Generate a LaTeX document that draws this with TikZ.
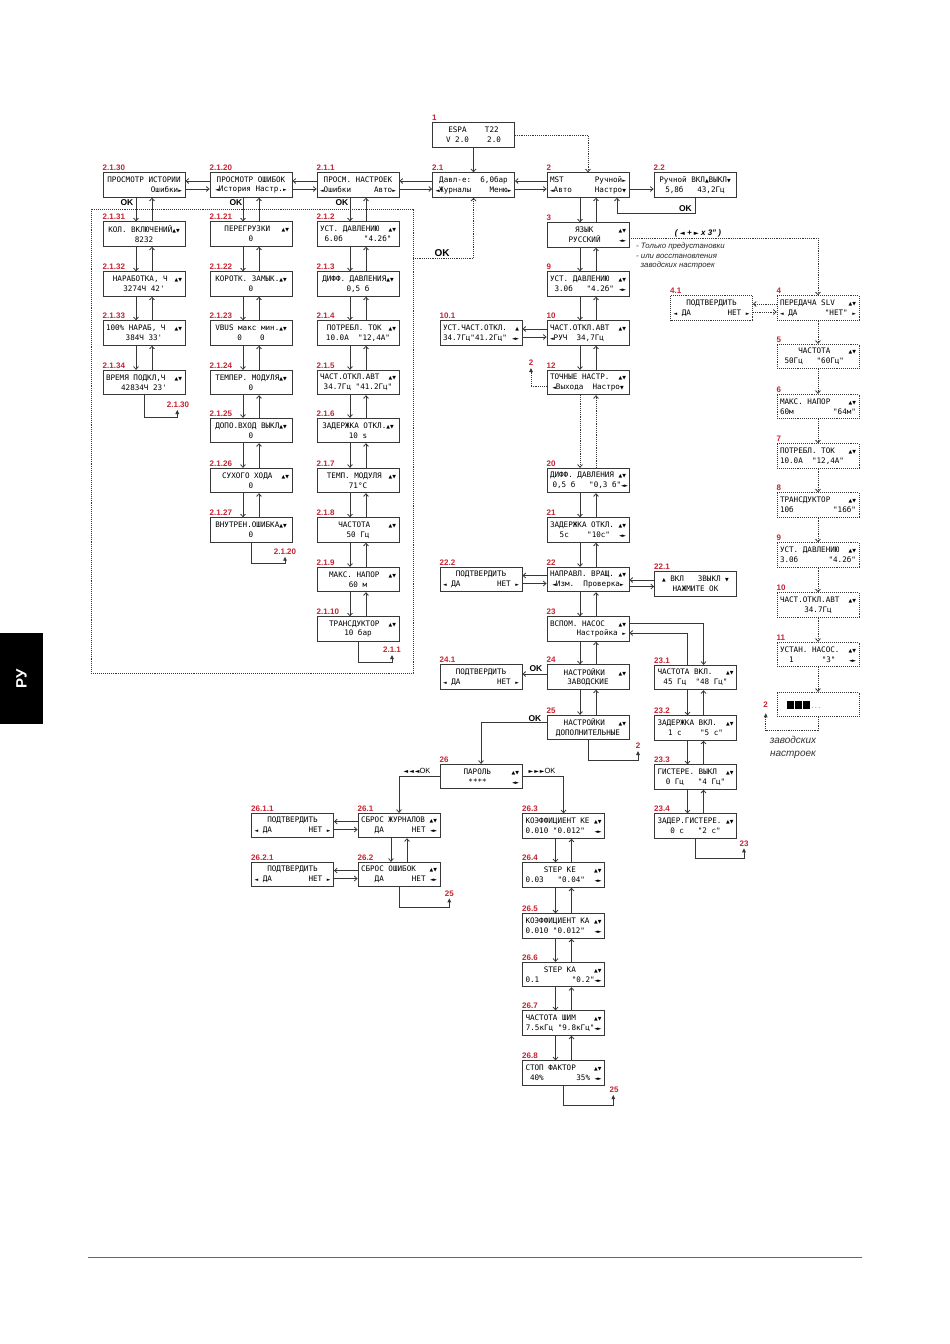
\documentclass[tikz,border=0pt]{standalone}
\usepackage{fontspec}
\setmainfont{Liberation Sans}
\newfontfamily\mono{DejaVu Sans Mono}
\newfontfamily\symf{DejaVu Sans}
\usetikzlibrary{arrows.meta}
\definecolor{lblred}{RGB}{200,35,50}
\definecolor{lineg}{RGB}{55,55,55}
\newcommand\sUD{{\symf\fontsize{4.8}{5}\selectfont ▲▼}}
\newcommand\sUp{{\symf\fontsize{4.8}{5}\selectfont ▲}}
\newcommand\sDn{{\symf\fontsize{4.8}{5}\selectfont ▼}}
\newcommand\sL{{\symf\fontsize{4.8}{5}\selectfont ◄}}
\newcommand\sR{{\symf\fontsize{4.8}{5}\selectfont ►}}
\newcommand\sLR{{\symf\fontsize{4.8}{5}\selectfont ◄\kern-0.6pt►}}
\newcommand\lcdl[1]{\makebox[76pt][c]{#1}}
\newcommand\lcdt[2]{\lcdl{#1}\\\lcdl{#2}}
\newcommand\bx[5]{\node[lcd] (#1) at (#2) {\lcdt{#4}{#5}};
  \node[lbl] at ([yshift=1.3pt]#1.north west) {#3};}
\newcommand\bxd[5]{\node[lcdd] (#1) at (#2) {\lcdt{#4}{#5}};
  \node[lbl] at ([yshift=1.3pt]#1.north west) {#3};}
\newcommand\vpair[2]{\draw[arr] ([xshift=-8pt]#1.south) -- ([xshift=-8pt]#2.north);
  \draw[arr] ([xshift=8pt]#2.north) -- ([xshift=8pt]#1.south);}
\newcommand\hpair[2]{\draw[arr] ([yshift=4pt]#2.west) -- ([yshift=4pt]#1.east);
  \draw[arr] ([yshift=-4pt]#1.east) -- ([yshift=-4pt]#2.west);}
\begin{document}
\begin{tikzpicture}[x=1pt,y=-1pt,
  lcd/.style={draw=lineg, line width=0.95pt, fill=white, minimum width=82pt, minimum height=24.5pt, inner sep=0pt, align=center, font=\mono\fontsize{7.6}{9.8}\selectfont},
  lcdd/.style={lcd, densely dotted},
  lbl/.style={text=lblred, font=\bfseries\fontsize{8}{9}\selectfont, inner sep=0pt, anchor=south west},
  arr/.style={draw=lineg, line width=0.85pt, -{Straight Barb[length=2.6pt,width=5pt]}},
  darr/.style={arr, densely dotted},
  larr/.style={draw=lineg, line width=0.85pt, -{Triangle[length=4pt,width=3.6pt]}},
  dlarr/.style={larr, densely dotted},
  okl/.style={font=\bfseries\fontsize{8.5}{9}\selectfont, inner sep=0pt},
  note/.style={font=\itshape\fontsize{7.8}{9}\selectfont, inner sep=0pt, anchor=west, text=black!85}]
\fill[white] (0,0) rectangle (950,1344);
\useasboundingbox (0,0) rectangle (950,1344);
% side tab and page line
\fill[black] (0,633) rectangle (43,724);
\node[text=white, rotate=90, font=\bfseries\fontsize{15}{15}\selectfont] (tab) at (21.5,678.5) {РУ};
\draw[black!60, line width=0.6pt] (88,1257) -- (862,1257);
% dotted frame of the left block
\draw[lineg, densely dotted, line width=0.95pt] (91,209) rectangle (413,673);

% ---------- top / middle column
\bx{n1}{473.5,135}{1}{\hfill ESPA~~~~T22\hfill}{\hfill V~2.0~~~~2.0\hfill}
\bx{n21}{473.5,185}{2.1}{Давл-е:~~6,0бар}{\sL Журналы\hfill Меню\sR}
\bx{n2}{588,185}{2}{MST\hfill Ручной\sR}{\sL Авто\hfill Настро\sDn}
\bx{n22}{695,185}{2.2}{Ручной ВКЛ\sUp ВЫКЛ\sDn}{\hfill 5,8б~~~43,2Гц\hfill}
\bx{n3}{588,235}{3}{\hfill ЯЗЫК\hfill\sUD}{\hfill РУССКИЙ\hfill\sLR}
\bx{n9}{588,284}{9}{УСТ. ДАВЛЕНИЮ\hfill\sUD}{~3.0б~~~"4.2б"\hfill\sLR}
\bx{n101}{481,333}{10.1}{УСТ.ЧАСТ.ОТКЛ.\hfill\sUp}{34.7Гц"41.2Гц"\hfill\sLR}
\bx{n10}{588,333}{10}{ЧАСТ.ОТКЛ.АВТ\hfill\sUD}{\sL РУЧ~~34,7Гц\hfill}
\bx{n12}{588,382.5}{12}{ТОЧНЫЕ НАСТР.\hfill\sUD}{\sL Выхода~~Настро\sDn}
\bx{n20}{588,480.5}{20}{ДИФФ. ДАВЛЕНИЯ\hfill\sUD}{~0,5 б~~~"0,3 б"\hfill\sLR}
\bx{n21b}{588,530}{21}{ЗАДЕРЖКА ОТКЛ.\hfill\sUD}{\hfill 5с~~~~"10с"~~\sLR}
\bx{n22b}{588,579.5}{22}{НАПРАВЛ. ВРАЩ.\hfill\sUD}{\sL Изм.~~Проверка\sR}
\bx{n222}{481,579.5}{22.2}{\hfill ПОДТВЕРДИТЬ\hfill}{\sL~ДА\hfill НЕТ~\sR}
\bx{n221}{695.5,584}{22.1}{\sUp~ВКЛ~~~ЗВЫКЛ~\sDn}{\hfill НАЖМИТЕ ОК\hfill}
\bx{n23}{588,629}{23}{ВСПОМ. НАСОС\hfill\sUD}{\hfill Настройка~\sR}
\bx{n24}{588,677}{24}{\hfill НАСТРОЙКИ\hfill\sUD}{\hfill ЗАВОДСКИЕ\hfill}
\bx{n241}{481,677}{24.1}{\hfill ПОДТВЕРДИТЬ\hfill}{\sL~ДА\hfill НЕТ~\sR}
\bx{n25}{588,727.5}{25}{\hfill НАСТРОЙКИ\hfill\sUD}{\hfill ДОПОЛНИТЕЛЬНЫЕ\hfill}
\bx{n231}{695.5,677.5}{23.1}{ЧАСТОТА ВКЛ.\hfill\sUD}{\hfill 45 Гц~~"48 Гц"\hfill}
\bx{n232}{695.5,728}{23.2}{ЗАДЕРЖКА ВКЛ.\hfill\sUD}{\hfill 1 с~~~~"5 с"\hfill}
\bx{n233}{695.5,777}{23.3}{ГИСТЕРЕ. ВЫКЛ\hfill\sUD}{\hfill 0 Гц~~~"4 Гц"\hfill}
\bx{n234}{695.5,826}{23.4}{ЗАДЕР.ГИСТЕРЕ.\hfill\sUD}{\hfill 0 с~~~"2 с"\hfill}
\bx{n26}{481,776.5}{26}{\hfill ПАРОЛЬ\hfill\sUD}{\hfill ****\hfill\sLR}
\bx{n2611}{292.5,825.5}{26.1.1}{\hfill ПОДТВЕРДИТЬ\hfill}{\sL~ДА\hfill НЕТ~\sR}
\bx{n261}{399,825.5}{26.1}{СБРОС ЖУРНАЛОВ\hfill\sUD}{~~~ДА\hfill НЕТ~\sLR}
\bx{n2621}{292.5,874.5}{26.2.1}{\hfill ПОДТВЕРДИТЬ\hfill}{\sL~ДА\hfill НЕТ~\sR}
\bx{n262}{399,874.5}{26.2}{СБРОС ОШИБОК\hfill\sUD}{~~~ДА\hfill НЕТ~\sLR}
\bx{n263}{563.5,826}{26.3}{КОЭФФИЦИЕНТ КЕ\hfill\sUD}{0.010 "0.012"\hfill\sLR}
\bx{n264}{563.5,875}{26.4}{\hfill STEP КЕ\hfill\sUD}{0.03~~~"0.04"\hfill\sLR}
\bx{n265}{563.5,926}{26.5}{КОЭФФИЦИЕНТ КА\hfill\sUD}{0.010 "0.012"\hfill\sLR}
\bx{n266}{563.5,974.5}{26.6}{\hfill STEP КА\hfill\sUD}{0.1\hfill"0.2"\sLR}
\bx{n267}{563.5,1023}{26.7}{ЧАСТОТА ШИМ\hfill\sUD}{7.5кГц "9.8кГц"\sLR}
\bx{n268}{563.5,1073}{26.8}{СТОП ФАКТОР\hfill\sUD}{~40\%\hfill 35\%~\sLR}

% ---------- right dotted column
\bxd{n4}{818,308}{4}{ПЕРЕДАЧА SLV\hfill\sUD}{\sL~ДА\hfill"НЕТ"~\sR}
\bxd{n41}{711.5,308}{4.1}{\hfill ПОДТВЕРДИТЬ\hfill}{\sL~ДА\hfill НЕТ~\sR}
\bxd{n5}{818,356.5}{5}{\hfill ЧАСТОТА\hfill\sUD}{~50Гц~~~"60Гц"\hfill}
\bxd{n6}{818,406.5}{6}{МАКС. НАПОР\hfill\sUD}{60м\hfill"64м"}
\bxd{n7}{818,456}{7}{ПОТРЕБЛ. ТОК\hfill\sUD}{10.0А~~"12,4А"\hfill}
\bxd{n8}{818,505}{8}{ТРАНСДУКТОР\hfill\sUD}{10б\hfill"16б"}
\bxd{n9r}{818,555}{9}{УСТ. ДАВЛЕНИЮ\hfill\sUD}{3.0б\hfill"4.2б"}
\bxd{n10r}{818,605}{10}{ЧАСТ.ОТКЛ.АВТ\hfill\sUD}{\hfill 34.7Гц\hfill}
\bxd{n11}{818,654.5}{11}{УСТАН. НАСОС.\hfill\sUD}{~~1\hfill"3"~~~\sLR}
\node[lcdd] (nfin) at (818,704.5) {\makebox[76pt][l]{\hspace{7pt}\rule{6.5pt}{8pt}\hspace{1.5pt}\rule{6.5pt}{8pt}\hspace{1.5pt}\rule{6.5pt}{8pt}\hspace{1pt}{\color{gray}\fontsize{6}{7}\selectfont...}}};

% ---------- left block
\bx{n2130}{144,185}{2.1.30}{ПРОСМОТР ИСТОРИИ}{\hfill Ошибки\sR}
\bx{n2120}{251,185}{2.1.20}{\hfill ПРОСМОТР ОШИБОК\hfill}{\sL История Настр.\sR}
\bx{n211}{358,185}{2.1.1}{\hfill ПРОСМ. НАСТРОЕК\hfill}{\sL Ошибки\hfill Авто\sR}
\bx{n2131}{144,234}{2.1.31}{КОЛ. ВКЛЮЧЕНИЙ\sUD}{\hfill 8232\hfill}
\bx{n2132}{144,284}{2.1.32}{\hfill НАРАБОТКА, Ч\hfill\sUD}{\hfill 3274Ч 42'\hfill}
\bx{n2133}{144,333}{2.1.33}{100\% НАРАБ, Ч\hfill\sUD}{\hfill 384Ч 33'\hfill}
\bx{n2134}{144,382.5}{2.1.34}{ВРЕМЯ ПОДКЛ,Ч\hfill\sUD}{\hfill 42834Ч 23'\hfill}
\bx{n2121}{251,234}{2.1.21}{\hfill ПЕРЕГРУЗКИ\hfill\sUD}{\hfill 0\hfill}
\bx{n2122}{251,284}{2.1.22}{КОРОТК. ЗАМЫК.\sUD}{\hfill 0\hfill}
\bx{n2123}{251,333}{2.1.23}{VBUS макс мин.\sUD}{\hfill 0~~~~0\hfill}
\bx{n2124}{251,382.5}{2.1.24}{ТЕМПЕР. МОДУЛЯ\sUD}{\hfill 0\hfill}
\bx{n2125}{251,430.5}{2.1.25}{ДОПО.ВХОД ВЫКЛ\sUD}{\hfill 0\hfill}
\bx{n2126}{251,480.5}{2.1.26}{\hfill СУХОГО ХОДА\hfill\sUD}{\hfill 0\hfill}
\bx{n2127}{251,530}{2.1.27}{ВНУТРЕН.ОШИБКА\sUD}{\hfill 0\hfill}
\bx{n212}{358,234}{2.1.2}{УСТ. ДАВЛЕНИЮ\hfill\sUD}{~6.0б\hfill"4.2б"~}
\bx{n213}{358,284}{2.1.3}{ДИФФ. ДАВЛЕНИЯ\sUD}{\hfill 0,5 б\hfill}
\bx{n214}{358,333}{2.1.4}{\hfill ПОТРЕБЛ. ТОК\hfill\sUD}{\hfill 10.0А~~"12,4А"\hfill}
\bx{n215}{358,382.5}{2.1.5}{ЧАСТ.ОТКЛ.АВТ\hfill\sUD}{\hfill 34.7Гц "41.2Гц"\hfill}
\bx{n216}{358,430.5}{2.1.6}{ЗАДЕРЖКА ОТКЛ.\sUD}{\hfill 10 s\hfill}
\bx{n217}{358,480.5}{2.1.7}{\hfill ТЕМП. МОДУЛЯ\hfill\sUD}{\hfill 71°C\hfill}
\bx{n218}{358,530}{2.1.8}{\hfill ЧАСТОТА\hfill\sUD}{\hfill 50 Гц\hfill}
\bx{n219}{358,579.5}{2.1.9}{\hfill МАКС. НАПОР\hfill\sUD}{\hfill 60 м\hfill}
\bx{n2110}{358,629}{2.1.10}{\hfill ТРАНСДУКТОР\hfill\sUD}{\hfill 10 бар\hfill}

% ---------- connectors: top
\draw[arr] (n1.south) -- (n21.north);
\draw[darr] (n1.east) -| (n2.north);
\hpair{n21}{n2}
\draw[arr] ([yshift=-4pt]n2.east) -- ([yshift=-4pt]n22.west);
\coordinate (c22) at (695,213);
\draw[arr] (n22.south) -- (c22) -| ([xshift=29pt]n2.south);
\node[okl, anchor=south east] (ok22) at (692,211.5) {OK};
\hpair{n211}{n21}
\hpair{n2120}{n211}
\hpair{n2130}{n2120}
\node[okl] (ok1) at (127,203) {OK};
\node[okl] (ok2) at (236,203) {OK};
\node[okl] (ok3) at (342,203) {OK};
\coordinate (rd) at (413,258);
\draw[darr] (rd) -| (n21.south);
\node[okl, font=\bfseries\fontsize{10}{10}\selectfont] (ok4) at (442,253.5) {OK};

% left block verticals
\vpair{n2130}{n2131} \vpair{n2131}{n2132} \vpair{n2132}{n2133} \vpair{n2133}{n2134}
\vpair{n2120}{n2121} \vpair{n2121}{n2122} \vpair{n2122}{n2123} \vpair{n2123}{n2124}
\vpair{n2124}{n2125} \vpair{n2125}{n2126} \vpair{n2126}{n2127}
\vpair{n211}{n212} \vpair{n212}{n213} \vpair{n213}{n214} \vpair{n214}{n215}
\vpair{n215}{n216} \vpair{n216}{n217} \vpair{n217}{n218} \vpair{n218}{n219} \vpair{n219}{n2110}
\coordinate (r2130) at (177.3,410);
\draw[larr] (n2134.south) -- ++(0,21.7) -| (r2130);
\node[lbl, anchor=south] at (178,408) {2.1.30};
\coordinate (r2120) at (285,556.7);
\draw[larr] (n2127.south) -- ++(0,20.2) -| (r2120);
\node[lbl, anchor=south] at (285,554.5) {2.1.20};
\coordinate (r211) at (392,655);
\draw[larr] (n2110.south) -- ++(0,20.2) -| (r211);
\node[lbl, anchor=south] at (392,653) {2.1.1};

% middle column
\vpair{n2}{n3} \vpair{n3}{n9} \vpair{n9}{n10} \vpair{n10}{n12}
\draw[darr] ([xshift=-8pt]n12.south) -- ([xshift=-8pt]n20.north);
\draw[darr] ([xshift=8pt]n20.north) -- ([xshift=8pt]n12.south);
\vpair{n20}{n21b} \vpair{n21b}{n22b} \vpair{n22b}{n23} \vpair{n23}{n24} \vpair{n24}{n25}
\hpair{n101}{n10}
\coordinate (r12) at (531,368);
\draw[dlarr] ([yshift=-4pt]n12.west) -| (r12);
\node[lbl, anchor=south] at (531,366) {2};
\hpair{n222}{n22b}
\coordinate (a1) at ([yshift=-0.5pt]n22b.east);
\coordinate (a2) at ([yshift=-7pt]n22b.east);
\draw[arr] (a1 -| n221.west) -- (a1);
\draw[arr] (a2) -- (a2 -| n221.west);
\draw[arr] ([yshift=6pt]n23.east) -| ([xshift=8pt]n231.north);
\draw[arr] ([xshift=-8pt]n231.north) |- ([yshift=-4pt]n23.east);
\vpair{n231}{n232} \vpair{n232}{n233} \vpair{n233}{n234}
\coordinate (r23) at (744,848.3);
\draw[larr] (n234.south) -- ++(0,19.7) -| (r23);
\node[lbl, anchor=south] at (744,846.5) {23};
\draw[arr] ([yshift=3pt]n24.west) -- ([yshift=3pt]n241.east);
\node[okl] (ok5) at (536,668.5) {OK};
\draw[arr] ([yshift=5pt]n25.west) -| (n26.north);
\node[okl] (ok6) at (535,719) {OK};
\coordinate (r25a) at (638,751);
\draw[larr] (n25.south) -- ++(0,20) -| (r25a);
\node[lbl, anchor=south] at (638,749) {2};
\draw[arr] (n26.east) -| (n263.north);
\draw[arr] (n26.west) -| (n261.north);
\node[inner sep=0pt, font=\fontsize{7.5}{8}\selectfont] (pk1) at (542,770.5) {{\symf\fontsize{6}{7}\selectfont ►\,►\,►}OK};
\node[inner sep=0pt, font=\fontsize{7.5}{8}\selectfont] (pk2) at (417,770.5) {{\symf\fontsize{6}{7}\selectfont ◄\,◄\,◄}OK};
\hpair{n2611}{n261}
\hpair{n2621}{n262}
\vpair{n261}{n262}
\coordinate (r25b) at (449.3,898.3);
\draw[larr] (n262.south) -- ++(0,20.3) -| (r25b);
\node[lbl, anchor=south] at (449.3,896.5) {25};
\vpair{n263}{n264} \vpair{n264}{n265} \vpair{n265}{n266} \vpair{n266}{n267} \vpair{n267}{n268}
\coordinate (r25c) at (613.3,1095);
\draw[larr] (n268.south) -- ++(0,20) -| (r25c);
\node[lbl, anchor=south] at (614,1093) {25};

% right dotted column
\draw[darr] ([yshift=-3.3pt]n3.east) -| (n4.north);
\node[font=\bfseries\itshape\fontsize{8}{9}\selectfont, inner sep=0pt] (nt0) at (698,233) {( {\symf\fontsize{6.5}{7}\selectfont ◄} + {\symf\fontsize{6.5}{7}\selectfont ►} x 3" )};
\node[note] (nt1) at (636,246) {- Только предустановки};
\node[note] (nt2) at (636,256) {- или восстановления};
\node[note] (nt3) at (640.5,265.5) {заводских настроек};
\draw[darr] ([yshift=4pt]n4.west) -- ([yshift=4pt]n41.east);
\draw[darr] ([yshift=-4pt]n41.east) -- ([yshift=-4pt]n4.west);
\draw[darr] (n4) -- (n5);
\draw[darr] (n5.south) -- (n6.north);
\draw[darr] (n6.south) -- (n7.north);
\draw[darr] (n7.south) -- (n8.north);
\draw[darr] (n8.south) -- (n9r.north);
\draw[darr] (n9r.south) -- (n10r.north);
\draw[darr] (n10r.south) -- (n11.north);
\draw[darr] (n11.south) -- (nfin.north);
\coordinate (rfin) at (765.7,713.3);
\draw[dlarr] (nfin.south) -- ++(0,13) -| (rfin);
\node[lbl, anchor=south] at (765.7,708) {2};
\node[font=\itshape\fontsize{10}{11}\selectfont, inner sep=0pt, text=black!80] (nt4) at (793,740) {заводских};
\node[font=\itshape\fontsize{10}{11}\selectfont, inner sep=0pt, text=black!80] (nt5) at (793,755) {настроек};
\end{tikzpicture}
\end{document}
